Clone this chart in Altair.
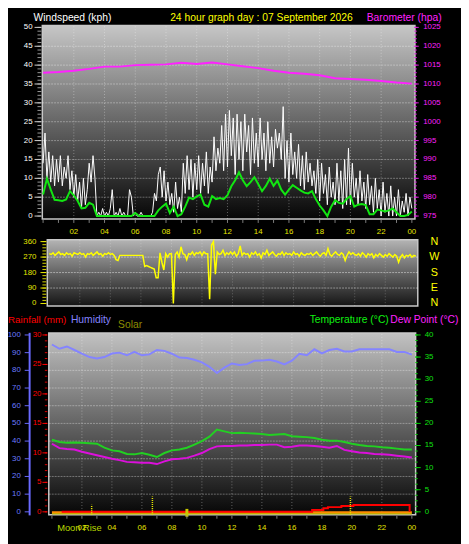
import altair as alt
import pandas as pd

FONT = "Liberation Sans"

# ---------------- data ----------------
# wind gust, every 7.5 minutes (8 per hour), kph
wind_gust = [
    14, 22, 10, 17, 9, 16, 8, 15,
    9, 16, 8, 13, 10, 16, 7, 12,
    5, 11, 4, 9, 2, 10, 3, 7,
    14, 9, 16, 10, 0, 1, 0, 2,
    0, 1, 0, 2, 7, 0, 1, 0,
    2, 0, 1, 0, 0, 7, 5, 0,
    1, 0, 0, 1, 0, 0, 0, 0,
    0, 1, 6, 4, 11, 13, 5, 12,
    4, 9, 3, 6, 1, 9, 2, 5,
    1, 14, 6, 16, 7, 15, 5, 14,
    7, 16, 6, 14, 8, 17, 6, 13,
    9, 21, 12, 18, 14, 24, 12, 27,
    13, 28, 16, 26, 11, 27, 15, 25,
    12, 27, 17, 24, 11, 26, 14, 22,
    13, 26, 15, 22, 12, 25, 14, 21,
    13, 23, 18, 22, 15, 29, 10, 20,
    9, 22, 11, 17, 10, 19, 8, 16,
    7, 17, 9, 14, 8, 12, 6, 15,
    4, 14, 6, 11, 3, 13, 5, 9,
    3, 14, 4, 12, 2, 15, 3, 18,
    3, 14, 5, 10, 3, 12, 4, 9,
    2, 11, 3, 8, 1, 10, 2, 7,
    0, 9, 1, 6, 0, 8, 0, 5,
    0, 7, 0, 4, 1, 6, 0, 5,
    2,
]

# average wind, every 15 minutes, kph
wind_avg = [
    5.7, 9.9, 7.0, 4.3,
    4.2, 4.0, 4.4, 6.6,
    5.5, 4.0, 2.0, 2.2,
    3.5, 3.0, 0.0, 0.0,
    0.0, 0.0, 0.0, 0.0,
    0.0, 0.0, 0.0, 0.0,
    0.8, 0.0, 0.0, 0.0,
    0.0, 0.0, 1.5, 2.5,
    3.3, 0.8, 2.5, 0.0,
    0.5, 2.5, 4.9, 4.5,
    5.2, 5.7, 3.0, 2.5,
    5.3, 4.5, 4.8, 4.5,
    5.5, 7.9, 9.5, 11.6,
    9.5, 7.9, 9.0, 10.3,
    8.5, 6.6, 8.0, 9.9,
    8.0, 9.4, 7.0, 5.7,
    7.0, 8.2, 7.5, 6.8,
    6.2, 6.0, 6.6, 4.5,
    2.8, 1.5, 0.0, 2.5,
    4.2, 3.5, 3.3, 4.5,
    5.3, 2.5, 3.0, 3.2,
    2.9, 0.5, 0.5, 1.7,
    1.5, 1.2, 1.5, 2.0,
    1.0, 0.0, 0.0, 0.3,
    1.2,
]

# barometer, hourly, hPa
barometer = [1013.0, 1013.2, 1013.5, 1014.0, 1014.6, 1014.6, 1015.0, 1015.1,
             1015.2, 1015.6, 1015.3, 1015.7, 1015.2, 1014.7, 1014.2, 1013.5,
             1013.0, 1012.7, 1012.3, 1011.5, 1011.3, 1011.1, 1010.8, 1010.4,
             1010.1]

# wind direction, every 7.5 minutes, degrees
wind_dir = [
    290, 285, 295, 280, 290, 300, 285, 290,
    280, 295, 285, 290, 275, 295, 290, 285,
    295, 285, 290, 270, 290, 285, 295, 280,
    290, 300, 285, 290, 275, 290, 285, 295,
    285, 290, 280, 255, 250, 280, 280, 280,
    280, 280, 280, 280, 280, 280, 280, 280,
    280, 280, 215, 220, 215, 210, 205, 200,
    150, 150, 295, 240, 195, 290, 270, 290,
    290, 0, 285, 300, 270, 330, 290, 285,
    255, 290, 285, 300, 280, 295, 290, 300,
    280, 300, 290, 290, 25, 340, 360, 170,
    300, 285, 290, 310, 280, 295, 285, 300,
    285, 300, 275, 290, 335, 280, 295, 285,
    290, 270, 295, 285, 300, 280, 290, 265,
    295, 285, 310, 280, 290, 300, 285, 275,
    290, 285, 300, 280, 295, 285, 290, 280,
    300, 285, 290, 275, 295, 285, 280, 290,
    285, 295, 280, 290, 300, 285, 275, 290,
    295, 280, 320, 285, 275, 290, 300, 285,
    280, 295, 285, 250, 280, 300, 285, 295,
    285, 280, 290, 275, 295, 285, 270, 290,
    280, 290, 265, 285, 275, 290, 280, 270,
    285, 275, 290, 280, 270, 285, 275, 240,
    270, 285, 265, 280, 275, 285, 270, 280,
    275,
]

# every 30 minutes
humidity = [94.6, 92.2, 93.5, 91.5, 89.4, 87.5, 86.7, 87.5, 89.5, 90.0,
            88.5, 90.4, 88.5, 89.0, 91.5, 91.0, 89.4, 87.2, 87.0, 86.0,
            84.5, 82.0, 78.5, 81.5, 83.9, 83.0, 83.5, 85.4, 85.5, 86.0,
            85.0, 83.3, 85.5, 89.4, 88.5, 91.9, 89.6, 91.5, 92.2, 90.7,
            90.7, 91.9, 91.9, 91.9, 91.9, 91.9, 90.4, 90.4, 88.9]
temperature = [16.3, 15.8, 15.6, 15.7, 15.6, 15.5, 15.4, 14.5, 13.9, 13.7,
               13.1, 13.0, 13.3, 12.9, 12.4, 13.3, 13.9, 14.1, 14.5, 15.2,
               16.0, 17.0, 18.6, 18.2, 17.8, 17.9, 17.8, 17.7, 17.6, 17.4,
               17.5, 17.6, 17.1, 17.0, 16.9, 16.7, 16.3, 16.1, 16.1, 15.8,
               15.4, 15.1, 14.9, 14.8, 14.6, 14.5, 14.3, 14.1, 14.1]
dew_point = [15.4, 14.4, 14.2, 14.1, 13.6, 13.2, 12.8, 12.4, 12.0, 11.7,
             11.3, 11.2, 11.1, 11.1, 10.8, 11.4, 11.9, 12.0, 12.2, 12.7,
             13.3, 14.2, 14.8, 14.9, 14.9, 15.0, 15.0, 15.1, 15.1, 15.2,
             15.2, 14.6, 14.7, 15.0, 15.0, 14.9, 14.7, 14.5, 14.9, 14.0,
             13.7, 13.4, 13.3, 13.1, 13.0, 12.9, 12.7, 12.5, 12.3]

rain_hours = [0.65, 17.35, 18.1, 18.4, 19.3, 20.1, 23.85]
rain_values = [0.0, 0.3, 0.6, 0.8, 1.0, 1.15, 0.0]
rate_hours = [0, 24]
rate_values = [0, 0]
solar_hours = [0, 24]
solar_values = [0, 0]
event_hours = [2.65, 6.7, 19.9]
event_tops = [1.2, 2.6, 2.6]
sun_hours = [9.0]

wind_ticks = [0, 5, 10, 15, 20, 25, 30, 35, 40, 45, 50]
baro_ticks = [975, 980, 985, 990, 995, 1000, 1005, 1010, 1015, 1020, 1025]
hour_ticks = [2, 4, 6, 8, 10, 12, 14, 16, 18, 20, 22, 24]
hour_labels = ["02", "04", "06", "08", "10", "12", "14", "16", "18", "20", "22", "00"]
dir_ticks = [0, 90, 180, 270, 360]
compass_labels = ["N", "E", "S", "W", "N"]
hum_ticks = [0, 10, 20, 30, 40, 50, 60, 70, 80, 90, 100]
rain_ticks = [0, 5, 10, 15, 20, 25, 30]
temp_ticks = [0, 5, 10, 15, 20, 25, 30, 35, 40]

TITLE_WIND = "Windspeed (kph)"
TITLE_DAY = "24 hour graph day : 07 September 2026"
TITLE_BARO = "Barometer (hpa)"
TITLE_RAIN = "Rainfall (mm)"
TITLE_HUM = "Humidity"
TITLE_SOLAR = "Solar"
TITLE_TEMP = "Temperature (°C)"
TITLE_DEW = "Dew Point (°C)"
MOON = "Moon Rise"

# ---------------- scales ----------------
def sc(domain, rng):
    return alt.Scale(domain=domain, range=rng, nice=False, zero=False)

XT = sc([0, 24], [35.7, 411])
XM = sc([0, 24], [42, 415])
XB = sc([0, 24], [44.7, 411])
YW = sc([0, 50], [207, 15])
YP = sc([975, 1025], [207, 15])
YD = sc([0, 360], [296, 233])
YT = sc([0, 40], [508, 328])
YH = sc([0, 100], [508, 328])
YR = sc([0, 30], [508, 328])


def qx(f, s):
    return alt.X(f + ":Q", scale=s, axis=None)


def qy(f, s):
    return alt.Y(f + ":Q", scale=s, axis=None)


def series(values, step):
    return pd.DataFrame({"h": [i * step for i in range(len(values))], "v": values})


def line(df, xs, ys, **mk):
    return alt.Chart(df).mark_line(**mk).encode(x=qx("h", xs), y=qy("v", ys))


def panel(xs, ys, x0, x1, y0, y1, top, bottom):
    df = pd.DataFrame({"x": [x0], "x2": [x1], "y": [y0], "y2": [y1]})
    grad = alt.Gradient(
        gradient="linear",
        stops=[alt.GradientStop(color=top, offset=0),
               alt.GradientStop(color=bottom, offset=1)],
        x1=0, x2=0, y1=0, y2=1,
    )
    return alt.Chart(df).mark_rect(color=grad, stroke="#c8c8c8", strokeWidth=1.5).encode(
        x=qx("x", xs), x2=alt.X2("x2"), y=qy("y", ys), y2=alt.Y2("y2"))


def vgrid(xs, ys, hours, y0, y1, op=0.35):
    df = pd.DataFrame({"h": hours, "a": [y0] * len(hours), "b": [y1] * len(hours)})
    return alt.Chart(df).mark_rule(color="#ffffff", opacity=op, strokeDash=[1, 2]).encode(
        x=qx("h", xs), y=qy("a", ys), y2=alt.Y2("b"))


def hgrid(xs, ys, vals, x0, x1, op=0.35):
    df = pd.DataFrame({"v": vals, "a": [x0] * len(vals), "b": [x1] * len(vals)})
    return alt.Chart(df).mark_rule(color="#ffffff", opacity=op, strokeDash=[2, 1]).encode(
        y=qy("v", ys), x=qx("a", xs), x2=alt.X2("b"))


def yticks(ys, vals, xa, xb, color, w=1):
    return alt.Chart(pd.DataFrame({"v": vals})).mark_rule(color=color, strokeWidth=w).encode(
        y=qy("v", ys), x=alt.value(xa), x2=alt.value(xb))


def ylabels(ys, vals, labels, x, align, color, size=8):
    df = pd.DataFrame({"v": vals, "t": labels})
    return alt.Chart(df).mark_text(align=align, baseline="middle", font=FONT,
                                   fontSize=size, color=color).encode(
        y=qy("v", ys), x=alt.value(x), text="t:N")


def xlabels(xs, vals, labels, y, color, size=8):
    df = pd.DataFrame({"h": vals, "t": labels})
    return alt.Chart(df).mark_text(align="center", baseline="middle", font=FONT,
                                   fontSize=size, color=color).encode(
        x=qx("h", xs), y=alt.value(y), text="t:N")


def xticks(xs, vals, ya, yb, color):
    return alt.Chart(pd.DataFrame({"h": vals})).mark_rule(color=color).encode(
        x=qx("h", xs), y=alt.value(ya), y2=alt.value(yb))


def label(text, x, y, color, align="left", size=10.5):
    return alt.Chart(pd.DataFrame({"t": [text]})).mark_text(
        align=align, baseline="alphabetic", font=FONT, fontSize=size, color=color).encode(
        x=alt.value(x), y=alt.value(y), text="t:N")


layers = []

# ---------------- top panel: wind + barometer ----------------
layers.append(panel(XT, YW, -0.05, 24.2, -0.75, 50.5, "#c6c6c6", "#060606"))
layers.append(vgrid(XT, YW, list(range(2, 24, 2)), -0.75, 50.5))
layers.append(hgrid(XT, YW, list(range(5, 50, 5)), -0.05, 24.2))
layers.append(line(series(wind_gust, 0.125), XT, YW, color="#ffffff", strokeWidth=1))
layers.append(line(series(wind_avg, 0.25), XT, YW, color="#12e612", strokeWidth=2))
layers.append(line(series(barometer, 1), XT, YP, color="#ff22ff", strokeWidth=2))
layers.append(yticks(YW, list(range(0, 51)), 30, 34, "#9a9a9a"))
layers.append(yticks(YW, wind_ticks, 27, 34, "#d0d0d0"))
layers.append(ylabels(YW, wind_ticks, [str(v) for v in wind_ticks], 25, "right", "#ffffff"))
layers.append(yticks(YP, list(range(975, 1026)), 413.5, 416, "#e020e0"))
layers.append(yticks(YP, baro_ticks, 413.5, 418, "#e020e0"))
layers.append(ylabels(YP, baro_ticks, [str(v) for v in baro_ticks], 422.5, "left", "#ff22ff"))
layers.append(xticks(XT, list(range(0, 25)), 211, 214, "#808080"))
layers.append(xlabels(XT, hour_ticks, hour_labels, 223, "#e6e600"))

# ---------------- middle panel: wind direction ----------------
layers.append(panel(XM, YD, -0.13, 24.13, -15, 371, "#b4b4b4", "#141414"))
layers.append(vgrid(XM, YD, list(range(2, 24, 2)), -15, 371, 0.25))
layers.append(hgrid(XM, YD, [90, 180, 270], -0.13, 24.13, 0.45))
layers.append(line(series(wind_dir, 0.125), XM, YD, color="#ffff00", strokeWidth=1.5))
layers.append(yticks(YD, list(range(0, 361, 18)), 35, 39, "#d8d800"))
layers.append(yticks(YD, dir_ticks, 33, 39, "#e6e600"))
layers.append(ylabels(YD, dir_ticks, [str(v) for v in dir_ticks], 29, "right", "#e6e600"))
layers.append(ylabels(YD, dir_ticks, compass_labels, 434, "center", "#ffff00", 11))

# ---------------- bottom panel: rain / humidity / temperature ----------------
layers.append(panel(XB, YT, -0.21, 24.25, -0.67, 40.44, "#c2c2c2", "#060606"))
layers.append(vgrid(XB, YT, list(range(2, 24, 2)), -0.67, 40.44))
layers.append(hgrid(XB, YH, list(range(10, 100, 10)), -0.21, 24.25))
layers.append(line(series(humidity, 0.5), XB, YH, color="#8484ff", strokeWidth=2))
layers.append(line(series(temperature, 0.5), XB, YT, color="#22d022", strokeWidth=2))
layers.append(line(series(dew_point, 0.5), XB, YT, color="#dc10dc", strokeWidth=2))
layers.append(line(pd.DataFrame({"h": solar_hours, "v": solar_values}), XB, YR,
                   color="#b4b400", strokeWidth=1.5, yOffset=2))
layers.append(line(pd.DataFrame({"h": rate_hours, "v": rate_values}), XB, YR,
                   color="#ff8c00", strokeWidth=2, yOffset=0.5))
layers.append(line(pd.DataFrame({"h": rain_hours, "v": rain_values}), XB, YR,
                   color="#ff0000", strokeWidth=2, interpolate="step-after"))
ev = pd.DataFrame({"h": event_hours, "a": [-0.5] * len(event_hours), "b": event_tops})
layers.append(alt.Chart(ev).mark_rule(color="#e6e600", strokeWidth=1.5, strokeDash=[1, 1]).encode(
    x=qx("h", XB), y=qy("a", YR), y2=alt.Y2("b")))
sun = pd.DataFrame({"h": sun_hours, "a": [-0.85], "b": [0.5]})
layers.append(alt.Chart(sun).mark_rule(color="#c8c800", strokeWidth=3).encode(
    x=qx("h", XB), y=qy("a", YR), y2=alt.Y2("b")))

# bottom axes
hum_axis = pd.DataFrame({"a": [-2.0], "b": [101.2]})
layers.append(alt.Chart(hum_axis).mark_rule(color="#6a6aff", strokeWidth=2).encode(
    x=alt.value(22), y=qy("a", YH), y2=alt.Y2("b")))
layers.append(yticks(YH, hum_ticks, 17, 22, "#6a6aff"))
layers.append(ylabels(YH, hum_ticks, [str(v) for v in hum_ticks], 13, "right", "#6a7cff"))
layers.append(yticks(YR, list(range(0, 31)), 37.5, 40, "#e00000"))
layers.append(yticks(YR, rain_ticks, 35, 40, "#ff0000"))
layers.append(ylabels(YR, rain_ticks, [str(v) for v in rain_ticks], 34, "right", "#ff0000"))
layers.append(yticks(YT, [i * 1.25 for i in range(33)], 414.5, 417, "#00c800"))
layers.append(yticks(YT, temp_ticks, 414.5, 420, "#00d000"))
layers.append(ylabels(YT, temp_ticks, [str(v) for v in temp_ticks], 424, "left", "#10e010"))
layers.append(xticks(XB, list(range(0, 25)), 512, 515, "#808080"))
layers.append(label(MOON, 50, 527, "#b8d800", size=9.5))
layers.append(xlabels(XB, hour_ticks, hour_labels, 524, "#e6e600"))

# ---------------- titles ----------------
layers.append(label(TITLE_WIND, 26, 8, "#ffffff"))
layers.append(label(TITLE_DAY, 165, 8, "#ffff00"))
layers.append(label(TITLE_BARO, 365, 8, "#ff22ff"))
layers.append(label(TITLE_RAIN, 0, 316, "#ff0000", size=10))
layers.append(label(TITLE_HUM, 64, 316, "#8484ff"))
layers.append(label(TITLE_SOLAR, 112, 321, "#8c8c00"))
layers.append(label(TITLE_TEMP, 307, 316, "#10f010"))
layers.append(label(TITLE_DEW, 389, 316, "#ff22ff"))

chart = alt.layer(*layers).resolve_scale(x="independent", y="independent").properties(
    width=461, height=536, background="#000000", padding=0,
    autosize=alt.AutoSizeParams(type="none"),
).configure_view(stroke=None)

chart.save("out.html", embed_options={"renderer": "svg", "actions": False})
